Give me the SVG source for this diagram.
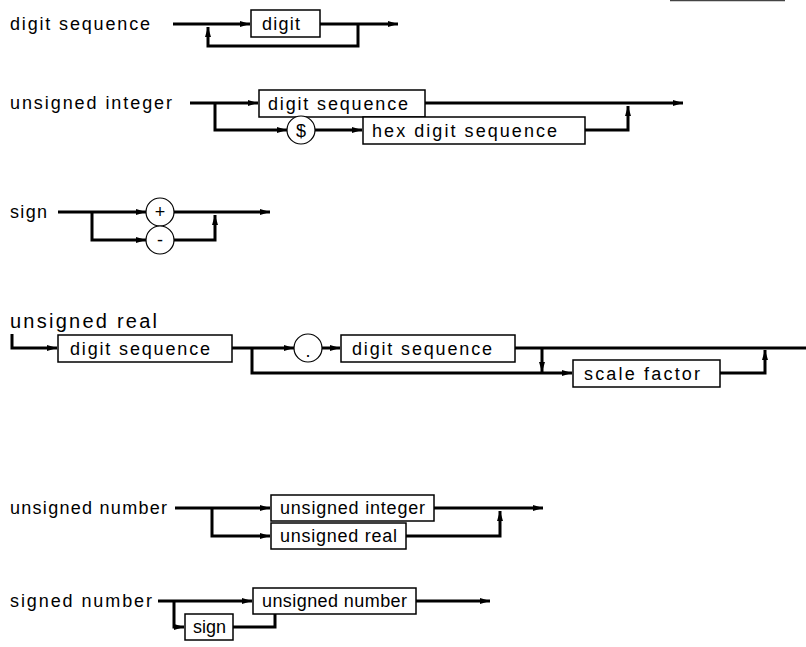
<svg xmlns="http://www.w3.org/2000/svg" width="806" height="647" viewBox="0 0 806 647">
<style>
text{font-family:"Liberation Sans",Arial,sans-serif;font-size:18px;fill:#000}
.big{font-size:20px}
.c{fill:none;stroke:#000;stroke-width:3;stroke-linejoin:miter}
.b{fill:#fff;stroke:#000;stroke-width:1.5}
.o{fill:#fff;stroke:#000;stroke-width:1.2}
</style>
<defs>
<marker id="a" viewBox="0 0 10 8" refX="10" refY="4" markerWidth="10" markerHeight="8" markerUnits="userSpaceOnUse" orient="auto">
<path d="M0,1 L10,4 L0,7 z" fill="#000"/>
</marker>
</defs>
<rect width="806" height="647" fill="#fff"/>
<line x1="670" y1="0.5" x2="785" y2="0.5" stroke="#444" stroke-width="1.5"/>

<g id="connectors">
<path class="c" d="M173,24 H250" marker-end="url(#a)"/>
<path class="c" d="M320,24 H398" marker-end="url(#a)"/>
<path class="c" d="M358,24 V46 H208 V27" marker-end="url(#a)"/>

<path class="c" d="M190,103 H258" marker-end="url(#a)"/>
<path class="c" d="M215,103 V130 H287" marker-end="url(#a)"/>
<path class="c" d="M315,130 H362" marker-end="url(#a)"/>
<path class="c" d="M425,103 H683" marker-end="url(#a)"/>
<path class="c" d="M585,130 H628 V106" marker-end="url(#a)"/>

<path class="c" d="M58,212 H146" marker-end="url(#a)"/>
<path class="c" d="M92,212 V240 H146" marker-end="url(#a)"/>
<path class="c" d="M174,212 H270" marker-end="url(#a)"/>
<path class="c" d="M174,240 H215 V215" marker-end="url(#a)"/>

<path class="c" d="M12,334 V348 H57" marker-end="url(#a)"/>
<path class="c" d="M232,348 H294" marker-end="url(#a)"/>
<path class="c" d="M322,348 H340" marker-end="url(#a)"/>
<path class="c" d="M515,348 H806"/>
<path class="c" d="M252,348 V373 H572" marker-end="url(#a)"/>
<path class="c" d="M542,348 V372" marker-end="url(#a)"/>
<path class="c" d="M720,373 H765 V350" marker-end="url(#a)"/>

<path class="c" d="M175,508 H270" marker-end="url(#a)"/>
<path class="c" d="M212,508 V536 H270" marker-end="url(#a)"/>
<path class="c" d="M434,508 H543" marker-end="url(#a)"/>
<path class="c" d="M406,536 H500 V511" marker-end="url(#a)"/>

<path class="c" d="M158,601 H252" marker-end="url(#a)"/>
<path class="c" d="M174,601 V627 H184" marker-end="url(#a)"/>
<path class="c" d="M233,627 H275 V604" marker-end="url(#a)"/>
<path class="c" d="M416,601 H490" marker-end="url(#a)"/>
</g>

<g id="digit-sequence">
<text x="10" y="30" textLength="140" lengthAdjust="spacing">digit sequence</text>
<g id="ds-digit"><rect class="b" x="251" y="10" width="69" height="27"/><text x="262" y="30" textLength="38" lengthAdjust="spacing">digit</text></g>
</g>

<g id="unsigned-integer">
<text x="10" y="109" textLength="162" lengthAdjust="spacing">unsigned integer</text>
<g id="ui-ds"><rect class="b" x="259" y="90" width="166" height="27"/><text x="268" y="110" textLength="140" lengthAdjust="spacing">digit sequence</text></g>
<g id="ui-dollar"><circle class="o" cx="301" cy="130" r="14"/><text x="301" y="137" text-anchor="middle">$</text></g>
<g id="ui-hex"><rect class="b" x="363" y="117" width="222" height="27"/><text x="372" y="137" textLength="185" lengthAdjust="spacing">hex digit sequence</text></g>
</g>

<g id="sign">
<text x="10" y="218" textLength="37" lengthAdjust="spacing">sign</text>
<g id="sign-plus"><circle class="o" cx="160" cy="212" r="14"/><text x="160" y="218" text-anchor="middle" font-size="16">+</text></g>
<g id="sign-minus"><circle class="o" cx="160" cy="240" r="14"/><text x="160" y="246" text-anchor="middle" font-size="16">-</text></g>
</g>

<g id="unsigned-real">
<text class="big" x="10" y="328" textLength="147" lengthAdjust="spacing">unsigned real</text>
<g id="ur-ds1"><rect class="b" x="58" y="335" width="174" height="27"/><text x="70" y="355" textLength="140" lengthAdjust="spacing">digit sequence</text></g>
<g id="ur-dot"><circle class="o" cx="308" cy="348" r="14"/><text x="308" y="357" text-anchor="middle">.</text></g>
<g id="ur-ds2"><rect class="b" x="341" y="335" width="174" height="27"/><text x="352" y="355" textLength="140" lengthAdjust="spacing">digit sequence</text></g>
<g id="ur-scale"><rect class="b" x="573" y="360" width="147" height="27"/><text x="584" y="380" textLength="116" lengthAdjust="spacing">scale factor</text></g>
</g>

<g id="unsigned-number">
<text x="10" y="514" textLength="157" lengthAdjust="spacing">unsigned number</text>
<g id="un-ui"><rect class="b" x="271" y="495" width="163" height="26"/><text x="280" y="514" textLength="145" lengthAdjust="spacing">unsigned integer</text></g>
<g id="un-ur"><rect class="b" x="271" y="523" width="135" height="26"/><text x="280" y="542" textLength="117" lengthAdjust="spacing">unsigned real</text></g>
</g>

<g id="signed-number">
<text x="10" y="607" textLength="142" lengthAdjust="spacing">signed number</text>
<g id="sn-un"><rect class="b" x="253" y="588" width="163" height="26"/><text x="262" y="607" textLength="145" lengthAdjust="spacing">unsigned number</text></g>
<g id="sn-sign"><rect class="b" x="185" y="614" width="48" height="26"/><text x="193" y="633" textLength="33" lengthAdjust="spacing">sign</text></g>
</g>
</svg>
